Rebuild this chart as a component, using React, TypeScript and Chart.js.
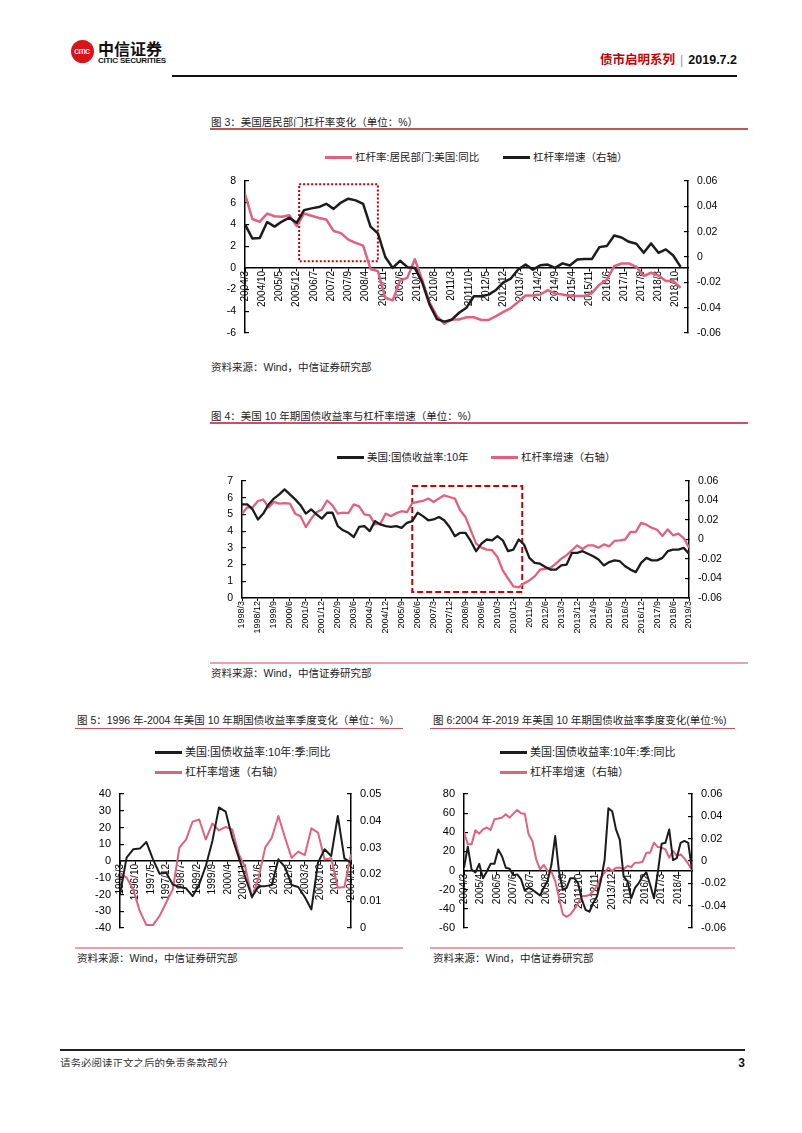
import React, { useEffect, useRef } from 'react';
import { Chart, registerables } from 'chart.js';

Chart.register(...registerables);

const PINK = '#e0627f';
const DARK = '#1c1c1c';
const BOX_RED = '#c00000';
const NUM_FONT = "'Liberation Sans', Arial, sans-serif";
const TEXT_FONT = "'Liberation Sans', 'Noto Sans CJK SC', sans-serif";

// ---------------- 图3 ----------------
const C3_START = '2004/3';
const C3_END = '2019/3';
const C3_X_TICKS = ['2004/3', '2004/10', '2005/5', '2005/12', '2006/7', '2007/2', '2007/9', '2008/4', '2008/11', '2009/6', '2010/1', '2010/8', '2011/3', '2011/10', '2012/5', '2012/12', '2013/7', '2014/2', '2014/9', '2015/4', '2015/11', '2016/6', '2017/1', '2017/8', '2018/3', '2018/10'];
// 杠杆率:居民部门:美国:同比 (left axis), quarterly from 2004/3
const C3_LEVERAGE_YOY = [6.8, 4.5, 4.25, 5.0, 4.75, 4.7, 4.85, 3.85, 5.0, 4.8, 4.6, 4.45, 3.4, 3.2, 2.6, 2.3, 2.05, -0.1, -0.3, -2.75, -3.0, -1.2, -0.9, 0.8, -1.1, -3.2, -4.45, -5.15, -4.75, -4.75, -4.55, -4.55, -4.8, -4.8, -4.45, -4.05, -3.7, -3.15, -2.55, -2.55, -2.45, -2.05, -2.35, -2.45, -2.6, -2.6, -2.6, -2.3, -1.55, -1.1, 0.15, 0.4, 0.4, 0.1, -0.75, -0.45, -0.7, -1.2, -1.2, -1.85];
// 杠杆率增速 (right axis), quarterly from 2004/3
const C3_LEVERAGE_GROWTH = [0.0257, 0.0146, 0.015, 0.0276, 0.024, 0.028, 0.031, 0.027, 0.037, 0.0384, 0.0394, 0.042, 0.038, 0.043, 0.046, 0.0447, 0.042, 0.024, 0.0186, 0, -0.0086, -0.003, -0.008, -0.0086, -0.02, -0.0376, -0.049, -0.051, -0.0495, -0.044, -0.04, -0.031, -0.031, -0.0297, -0.026, -0.02, -0.017, -0.0099, -0.006, -0.01, -0.0065, -0.006, -0.0086, -0.005, -0.0067, -0.002, -0.0015, -0.0015, 0.0078, 0.0086, 0.017, 0.0154, 0.012, 0.0104, 0.0033, 0.0107, 0.0033, 0.006, 0.0012, -0.0078];
const C3_BOX = { from: '2006/1', to: '2008/9', low: 0.6, high: 7.7 };

// ---------------- 图4 ----------------
const C4_START = '1998/3';
const C4_END = '2019/3';
const C4_X_TICKS = ['1998/3', '1998/12', '1999/9', '2000/6', '2001/3', '2001/12', '2002/9', '2003/6', '2004/3', '2004/12', '2005/9', '2006/6', '2007/3', '2007/12', '2008/9', '2009/6', '2010/3', '2010/12', '2011/9', '2012/6', '2013/3', '2013/12', '2014/9', '2015/6', '2016/3', '2016/12', '2017/9', '2018/6', '2019/3'];
// 美国:国债收益率:10年 (left axis)
const C4_YIELD_10Y = [5.6, 5.6, 5.3, 4.7, 5.05, 5.6, 5.95, 6.2, 6.5, 6.2, 5.9, 5.55, 5.05, 5.3, 5.0, 4.75, 5.1, 5.1, 4.3, 4.05, 3.9, 3.65, 4.25, 4.3, 4.0, 4.6, 4.4, 4.3, 4.25, 4.3, 4.2, 4.5, 4.6, 5.1, 4.9, 4.65, 4.7, 4.85, 4.65, 4.25, 3.7, 3.9, 3.9, 3.4, 2.8, 3.25, 3.5, 3.45, 3.7, 3.45, 2.8, 2.9, 3.5, 3.2, 2.4, 2.1, 2.05, 1.85, 1.7, 1.7, 1.95, 2.0, 2.7, 2.7, 2.8, 2.65, 2.5, 2.3, 1.95, 2.15, 2.25, 2.2, 1.9, 1.7, 1.55, 2.1, 2.4, 2.25, 2.25, 2.4, 2.8, 2.9, 2.9, 3.0, 2.65];
// 杠杆率增速 (right axis)
const C4_LEVERAGE_GROWTH = [0.0265, 0.033, 0.033, 0.0395, 0.041, 0.033, 0.0385, 0.0368, 0.0374, 0.0368, 0.0265, 0.0238, 0.0128, 0.0214, 0.028, 0.0306, 0.04, 0.035, 0.0265, 0.0275, 0.027, 0.036, 0.034, 0.0258, 0.0248, 0.0156, 0.0162, 0.0265, 0.024, 0.027, 0.029, 0.028, 0.0374, 0.0385, 0.0395, 0.042, 0.0385, 0.042, 0.0453, 0.0436, 0.042, 0.03, 0.023, 0.0094, -0.0043, -0.0084, -0.0104, -0.011, -0.018, -0.0316, -0.04, -0.048, -0.049, -0.045, -0.042, -0.0378, -0.031, -0.03, -0.029, -0.0248, -0.0197, -0.016, -0.011, -0.006, -0.0097, -0.006, -0.006, -0.0084, -0.005, -0.007, -0.0015, -0.0009, 0, 0.0077, 0.0077, 0.017, 0.0152, 0.0121, 0.01, 0.0036, 0.0104, 0.0043, 0.006, 0.0015, -0.0084];
const C4_BOX = { from: '2006/3', to: '2011/5', low: 0.36, high: 6.7 };

// ---------------- 图5 ----------------
const C5_START = '1996/3';
const C5_END = '2004/12';
const C5_X_TICKS = ['1996/3', '1996/10', '1997/5', '1997/12', '1998/7', '1999/2', '1999/9', '2000/4', '2000/11', '2001/6', '2002/1', '2002/8', '2003/3', '2003/10', '2004/5', '2004/12'];
// 美国:国债收益率:10年:季:同比 (left axis)
const C5_YIELD_YOY = [-20, 2, 7, 7.4, 11.3, 1, -7.6, -7, -14, -15.5, -16.3, -21, -14, -3, 12, 32, 29.5, 14, 2, -10, -21.5, -15, -15, -14.3, 1, -3.6, -14.3, -15.5, -21.5, -28.9, -1, 7, 3, 26.9, 1.6, -1];
// 杠杆率增速 (right axis)
const C5_LEVERAGE_GROWTH = [0.0203, 0.0188, 0.0144, 0.0063, 0.0011, 0.0011, 0.0045, 0.0095, 0.0144, 0.03, 0.033, 0.0397, 0.0405, 0.033, 0.039, 0.0364, 0.0377, 0.0368, 0.0275, 0.0225, 0.0113, 0.0188, 0.03, 0.0337, 0.0418, 0.0337, 0.0262, 0.0285, 0.0272, 0.0372, 0.0356, 0.0256, 0.026, 0.015, 0.0153, 0.0275];

// ---------------- 图6 ----------------
const C6_START = '2004/3';
const C6_END = '2019/3';
const C6_X_TICKS = ['2004/3', '2005/4', '2006/5', '2007/6', '2008/7', '2009/8', '2010/9', '2011/10', '2012/11', '2013/12', '2015/1', '2016/2', '2017/3', '2018/4'];
const C6_YIELD_YOY = [3, 25, 1, -2, 7, -8, -1, 7, 7, 22, 15, 3, 2, -5, -4, -9, -21, -18, -20, -23, -26, -18, -11, 6, 36, -1, -20, -18, -8, -8, -13, -30, -41, -43, -34, -27, -11, 11, 65, 62, 43, 32, -6, -11, -29, -18, -13, -6, -2, -15, -29, -2, 28, 29, 43, 11, 13, 29, 31, 29, 1];
const C6_LEVERAGE_GROWTH = [0.026, 0.015, 0.015, 0.0275, 0.0245, 0.0284, 0.03, 0.0278, 0.0373, 0.038, 0.039, 0.0418, 0.0388, 0.0424, 0.0457, 0.0427, 0.0424, 0.0239, 0.0179, 0.0015, -0.0075, -0.0036, -0.009, -0.0096, -0.018, -0.0328, -0.0478, -0.05, -0.0478, -0.0433, -0.0382, -0.0313, -0.0313, -0.0304, -0.0269, -0.0224, -0.0149, -0.0104, -0.006, -0.009, -0.006, -0.006, -0.0075, -0.0045, -0.0054, -0.0015, -0.0015, -0.0006, 0.0075, 0.0075, 0.0164, 0.0125, 0.012, 0.0104, 0.003, 0.009, 0.0045, 0.006, 0.0024, -0.0024, -0.0084];

function monthOffset(label: string, start: string): number {
  const [y, m] = label.split('/').map(Number);
  const [y0, m0] = start.split('/').map(Number);
  return (y - y0) * 12 + (m - m0);
}

type Series = { data: number[]; axis: 'yL' | 'yR'; color: string; width: number };
type Spec = {
  left: number; top: number; width: number; height: number;
  area: { l: number; r: number; t: number; b: number };
  start: string; end: string; xTicks: string[]; xFont: number; xAtZero: boolean;
  yFont: number;
  yL: { min: number; max: number; step: number };
  yR: { min: number; max: number; step: number };
  series: Series[];
  box?: { from: string; to: string; low: number; high: number; dash: number[] };
};

const boxPlugin = {
  id: 'highlightBox',
  beforeDatasetsDraw(chart: any, _args: any, opts: any) {
    const b = opts && opts.box;
    if (!b) return;
    const { ctx, scales } = chart;
    const x0 = scales.x.getPixelForValue(b.x0);
    const x1 = scales.x.getPixelForValue(b.x1);
    const y0 = scales.yL.getPixelForValue(b.high);
    const y1 = scales.yL.getPixelForValue(b.low);
    ctx.save();
    ctx.setLineDash(b.dash);
    ctx.lineWidth = 2;
    ctx.strokeStyle = BOX_RED;
    ctx.strokeRect(x0, y0, x1 - x0, y1 - y0);
    ctx.restore();
  },
};

function LineChart({ spec }: { spec: Spec }) {
  const ref = useRef<HTMLCanvasElement | null>(null);
  useEffect(() => {
    if (!ref.current) return;
    const tickVals = spec.xTicks.map((l) => monthOffset(l, spec.start));
    const tickLabel = new Map<number, string>();
    tickVals.forEach((v, i) => tickLabel.set(v, spec.xTicks[i]));
    const yAxis = (side: 'left' | 'right', cfg: { min: number; max: number; step: number }, w: number) => ({
      type: 'linear',
      position: side,
      min: cfg.min,
      max: cfg.max,
      ticks: { stepSize: cfg.step, padding: 13, color: '#000', font: { family: NUM_FONT, size: spec.yFont } },
      grid: { display: true, drawOnChartArea: false, drawTicks: true, tickLength: -4, color: '#000', lineWidth: 1.2 },
      border: { display: true, color: '#000', width: 1.5 },
      afterFit: (s: any) => {
        s.width = w;
        s.paddingTop = 0;
        s.paddingBottom = 0;
      },
    });
    const chart = new Chart(ref.current, {
      type: 'line',
      data: {
        datasets: spec.series.map((s) => ({
          data: s.data.map((v, i) => ({ x: i * 3, y: v })),
          yAxisID: s.axis,
          borderColor: s.color,
          backgroundColor: s.color,
          borderWidth: s.width,
          pointRadius: 0,
          tension: 0,
          fill: false,
          borderJoinStyle: 'round',
        })),
      },
      options: {
        responsive: false,
        animation: false,
        devicePixelRatio: 1,
        layout: { padding: { top: spec.area.t, bottom: spec.xAtZero ? spec.height - spec.area.b : 0, left: 0, right: 0 } },
        plugins: {
          legend: { display: false },
          tooltip: { enabled: false },
          highlightBox: spec.box
            ? { box: { x0: monthOffset(spec.box.from, spec.start), x1: monthOffset(spec.box.to, spec.start), low: spec.box.low, high: spec.box.high, dash: spec.box.dash } }
            : {},
        } as any,
        scales: {
          x: {
            type: 'linear',
            min: 0,
            max: monthOffset(spec.end, spec.start),
            position: spec.xAtZero ? { yL: 0 } : 'bottom',
            afterBuildTicks: (s: any) => { s.ticks = tickVals.map((v) => ({ value: v })); },
            afterFit: (s: any) => {
              s.height = spec.xAtZero ? 0 : spec.height - spec.area.b;
              s.paddingLeft = 0;
              s.paddingRight = 0;
            },
            ticks: {
              autoSkip: false,
              minRotation: 90,
              maxRotation: 90,
              padding: 0,
              color: '#000',
              font: { family: NUM_FONT, size: spec.xFont },
              callback: (v: any) => tickLabel.get(Number(v)) ?? '',
            },
            grid: { display: true, drawOnChartArea: false, drawTicks: true, tickLength: 3, color: '#000', lineWidth: 1 },
            border: { display: true, color: '#000', width: 1.5 },
          } as any,
          yL: yAxis('left', spec.yL, spec.area.l) as any,
          yR: yAxis('right', spec.yR, spec.width - spec.area.r) as any,
        },
      },
      plugins: [boxPlugin as any],
    } as any);
    return () => chart.destroy();
  }, [spec]);
  return (
    <canvas
      ref={ref}
      width={spec.width}
      height={spec.height}
      style={{ position: 'absolute', left: spec.left, top: spec.top, width: spec.width, height: spec.height }}
    />
  );
}

const SPEC3: Spec = {
  left: 185, top: 165, width: 550, height: 185,
  area: { l: 60, r: 503, t: 16, b: 168 },
  start: C3_START, end: C3_END, xTicks: C3_X_TICKS, xFont: 10, xAtZero: true, yFont: 10.5,
  yL: { min: -6, max: 8, step: 2 }, yR: { min: -0.06, max: 0.06, step: 0.02 },
  series: [
    { data: C3_LEVERAGE_GROWTH, axis: 'yR', color: DARK, width: 2.5 },
    { data: C3_LEVERAGE_YOY, axis: 'yL', color: PINK, width: 2.5 },
  ],
  box: { ...C3_BOX, dash: [2, 2] },
};

const SPEC4: Spec = {
  left: 185, top: 468, width: 550, height: 180,
  area: { l: 57, r: 504, t: 13, b: 130 },
  start: C4_START, end: C4_END, xTicks: C4_X_TICKS, xFont: 9, xAtZero: false, yFont: 10.5,
  yL: { min: 0, max: 7, step: 1 }, yR: { min: -0.06, max: 0.06, step: 0.02 },
  series: [
    { data: C4_YIELD_10Y, axis: 'yL', color: DARK, width: 2.3 },
    { data: C4_LEVERAGE_GROWTH, axis: 'yR', color: PINK, width: 2.3 },
  ],
  box: { ...C4_BOX, dash: [6, 3] },
};

const SPEC5: Spec = {
  left: 65, top: 783, width: 325, height: 152,
  area: { l: 55, r: 286, t: 11, b: 145 },
  start: C5_START, end: C5_END, xTicks: C5_X_TICKS, xFont: 10, xAtZero: true, yFont: 11,
  yL: { min: -40, max: 40, step: 10 }, yR: { min: 0, max: 0.05, step: 0.01 },
  series: [
    { data: C5_YIELD_YOY, axis: 'yL', color: DARK, width: 2 },
    { data: C5_LEVERAGE_GROWTH, axis: 'yR', color: PINK, width: 2 },
  ],
};

const SPEC6: Spec = {
  left: 410, top: 783, width: 325, height: 152,
  area: { l: 54, r: 282, t: 11, b: 145 },
  start: C6_START, end: C6_END, xTicks: C6_X_TICKS, xFont: 10, xAtZero: true, yFont: 11,
  yL: { min: -60, max: 80, step: 20 }, yR: { min: -0.06, max: 0.06, step: 0.02 },
  series: [
    { data: C6_YIELD_YOY, axis: 'yL', color: DARK, width: 2 },
    { data: C6_LEVERAGE_GROWTH, axis: 'yR', color: PINK, width: 2 },
  ],
};

function Text({ x, y, size, children, color = '#222', weight = 400, family = TEXT_FONT }: any) {
  return (
    <div style={{ position: 'absolute', left: x, top: y - size / 2, fontSize: size, lineHeight: 1, color, fontWeight: weight, fontFamily: family, whiteSpace: 'nowrap' }}>
      {children}
    </div>
  );
}

function HLine({ x, y, w, h = 2, color }: any) {
  return <div style={{ position: 'absolute', left: x, top: y, width: w, height: h, background: color }} />;
}

function LegendItem({ x, y, color, label, size }: any) {
  return (
    <>
      <div style={{ position: 'absolute', left: x, top: y - 1.5, width: 27, height: 3, background: color }} />
      <Text x={x + 30} y={y} size={size} color="#222">{label}</Text>
    </>
  );
}

const TITLE_LINE = '#c4545a';
const SOURCE_LINE = '#e9a2ad';
const SOURCE_TEXT = '资料来源：Wind，中信证券研究部';

export default function App() {
  return (
    <div style={{ position: 'absolute', left: 0, top: 0, width: 802, height: 1133, background: '#fff', overflow: 'hidden', fontFamily: TEXT_FONT }}>
      {/* header */}
      <div style={{ position: 'absolute', left: 70.5, top: 39.5, width: 23, height: 23, borderRadius: '50%', background: '#d7141a', color: '#fff', fontFamily: NUM_FONT, fontWeight: 700, fontSize: 6.5, lineHeight: '23px', textAlign: 'center', letterSpacing: -0.3 }}>CITIC</div>
      <Text x={98} y={48} size={16} weight={700} color="#111" family="'Noto Sans CJK SC', sans-serif">中信证券</Text>
      <div style={{ position: 'absolute', left: 98, top: 57, fontSize: 8, lineHeight: 1, fontWeight: 700, color: '#111', fontFamily: "'Liberation Sans Narrow', 'Liberation Sans', sans-serif", whiteSpace: 'nowrap', letterSpacing: -0.2 }}>CITIC SECURITIES</div>
      <div style={{ position: 'absolute', right: 65, top: 53.5, fontSize: 12.5, lineHeight: 1, fontWeight: 700, whiteSpace: 'nowrap', fontFamily: TEXT_FONT }}>
        <span style={{ color: '#c00000' }}>债市启明系列</span>
        <span style={{ color: '#999', fontWeight: 400, margin: '0 5px' }}>|</span>
        <span style={{ color: '#111' }}>2019.7.2</span>
      </div>
      <HLine x={172} y={75} w={565} h={2} color="#111" />

      {/* 图3 */}
      <Text x={211} y={122} size={10.5}>图 3：美国居民部门杠杆率变化（单位：%）</Text>
      <HLine x={210} y={128} w={538} h={1.5} color={TITLE_LINE} />
      <LegendItem x={325} y={157} color={PINK} size={10.5} label="杠杆率:居民部门:美国:同比" />
      <LegendItem x={503} y={157} color={DARK} size={10.5} label="杠杆率增速（右轴）" />
      <LineChart spec={SPEC3} />
      <Text x={211} y={367} size={10.5}>{SOURCE_TEXT}</Text>

      {/* 图4 */}
      <Text x={211} y={416} size={10.5}>图 4：美国 10 年期国债收益率与杠杆率增速（单位：%）</Text>
      <HLine x={210} y={422} w={538} h={1.5} color={TITLE_LINE} />
      <LegendItem x={337} y={457} color={DARK} size={10.5} label="美国:国债收益率:10年" />
      <LegendItem x={491} y={457} color={PINK} size={10.5} label="杠杆率增速（右轴）" />
      <LineChart spec={SPEC4} />
      <HLine x={210} y={662} w={538} h={2} color={SOURCE_LINE} />
      <Text x={211} y={673} size={10.5}>{SOURCE_TEXT}</Text>

      {/* 图5 */}
      <Text x={77} y={720} size={10.5}>图 5：1996 年-2004 年美国 10 年期国债收益率季度变化（单位：%）</Text>
      <HLine x={75} y={727.5} w={328} h={1.5} color={TITLE_LINE} />
      <LegendItem x={155} y={752} color={DARK} size={11} label="美国:国债收益率:10年:季:同比" />
      <LegendItem x={155} y={772} color={PINK} size={11} label="杠杆率增速（右轴）" />
      <LineChart spec={SPEC5} />
      <HLine x={75} y={947} w={328} h={2} color={SOURCE_LINE} />
      <Text x={77} y={958} size={10.5}>{SOURCE_TEXT}</Text>

      {/* 图6 */}
      <Text x={433} y={720} size={10.5}>图 6:2004 年-2019 年美国 10 年期国债收益率季度变化(单位:%)</Text>
      <HLine x={430} y={727.5} w={305} h={1.5} color={TITLE_LINE} />
      <LegendItem x={500} y={752} color={DARK} size={11} label="美国:国债收益率:10年:季:同比" />
      <LegendItem x={500} y={772} color={PINK} size={11} label="杠杆率增速（右轴）" />
      <LineChart spec={SPEC6} />
      <HLine x={430} y={947} w={305} h={2} color={SOURCE_LINE} />
      <Text x={433} y={958} size={10.5}>{SOURCE_TEXT}</Text>

      {/* footer */}
      <HLine x={60} y={1049} w={685} h={1.5} color="#222" />
      <div style={{ position: 'absolute', left: 60, top: 1057, height: 10, overflow: 'hidden', fontSize: 10.5, lineHeight: '12px', color: '#333', whiteSpace: 'nowrap' }}>请务必阅读正文之后的免责条款部分</div>
      <div style={{ position: 'absolute', right: 57, top: 1057, fontSize: 12, lineHeight: 1, fontWeight: 700, color: '#111', fontFamily: NUM_FONT }}>3</div>
    </div>
  );
}
